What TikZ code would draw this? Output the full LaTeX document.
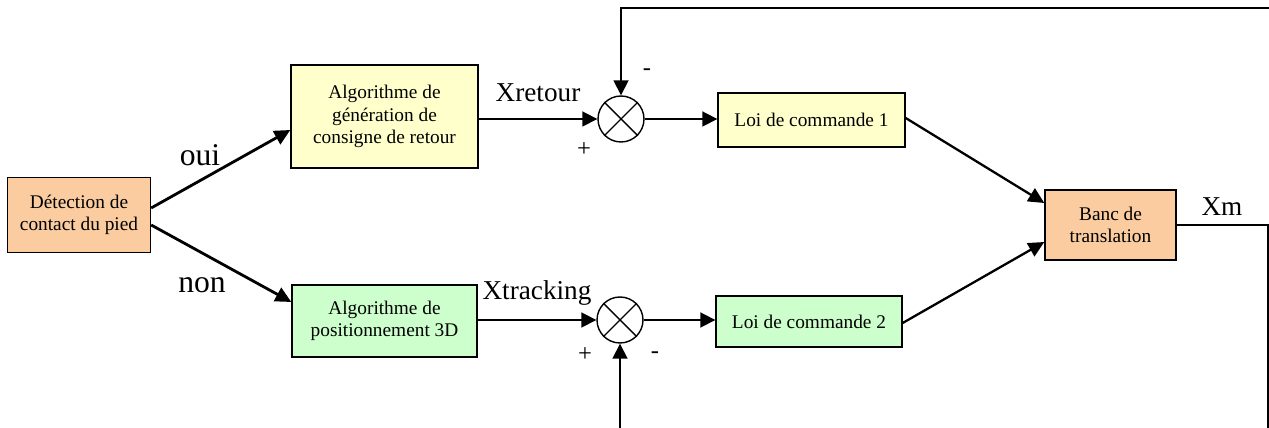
\documentclass[tikz,border=0pt]{standalone}
\usepackage{fontspec}
\setmainfont{Liberation Serif}
\usetikzlibrary{positioning,calc,arrows.meta}

\definecolor{boxorange}{HTML}{FACCA0}
\definecolor{boxyellow}{HTML}{FFFFCC}
\definecolor{boxgreen}{HTML}{CCFFCC}

\begin{document}
\begin{tikzpicture}[x=0.02cm,y=-0.02cm,
    bloc/.style={draw=black,line width=0.8pt,align=center,inner sep=1pt,
      font=\fontsize{11}{12.8}\selectfont},
    sumnode/.style={draw=black,circle,line width=0.8pt,minimum size=0.92cm,inner sep=0pt},
    lbl/.style={font=\fontsize{15.5}{18}\selectfont},
    choix/.style={font=\fontsize{18}{20}\selectfont},
    sgn/.style={font=\fontsize{14}{16}\selectfont},
    fleche/.style={line width=1pt,-{Triangle[length=8.5pt,width=8.5pt]}},
    grosse/.style={line width=1.6pt,-{Triangle[length=9pt,width=8.5pt]}},
    fil/.style={line width=0.9pt}]
  \useasboundingbox (0,0) rectangle (1269,428);

  % blocs
  \node[bloc,fill=boxorange,minimum width=2.86cm,minimum height=1.5cm] (det) at (79,215)
    {D\'etection de\\contact du pied};
  \node[bloc,fill=boxyellow,minimum width=3.74cm,minimum height=2.06cm] (ret) at (384.5,116.5)
    {Algorithme de\\g\'en\'eration de\\consigne de retour};
  \node[bloc,fill=boxgreen,minimum width=3.7cm,minimum height=1.44cm] (pos) at (384.5,321)
    {Algorithme de\\positionnement 3D};
  \node[sumnode] (sum1) at (621,119) {};
  \node[sumnode] (sum2) at (620,320) {};
  \node[bloc,fill=boxyellow,minimum width=3.74cm,minimum height=1.08cm] (loi1) at (811.5,120)
    {Loi de commande 1};
  \node[bloc,fill=boxgreen,minimum width=3.72cm,minimum height=1.02cm] (loi2) at (809,321.5)
    {Loi de commande 2};
  \node[bloc,fill=boxorange,minimum width=2.62cm,minimum height=1.4cm] (banc) at (1110.5,225)
    {Banc de\\translation};

  % croix des comparateurs
  \foreach \s in {sum1,sum2} {
    \draw[line width=0.8pt] (\s.north east) -- (\s.south west);
    \draw[line width=0.8pt] (\s.north west) -- (\s.south east);
  }

  % labels
  \node[choix] (oui) at (200,155) {oui};
  \node[choix] (non) at (202,285) {non};
  \node[lbl] (xret) at (538,93) {Xretour};
  \node[lbl] (xtrack) at (537,293) {Xtracking};
  \node[lbl] (xm) at (1222,207) {Xm};
  \node[sgn] (m1) at (647,72) {-};
  \node[sgn] (p1) at (584,150) {+};
  \node[sgn] (p2) at (585,355) {+};
  \node[sgn] (m2) at (655,355) {-};

  % liaisons
  \draw[grosse] ($(det.east)+(0,-7)$) -- ($(ret.west)+(0,13.5)$);
  \draw[grosse] ($(det.east)+(0,10)$) -- ($(pos.west)+(0,-19)$);
  \draw[fleche] (ret.east |- sum1) -- (sum1.west);
  \draw[fleche] (pos.east |- sum2) -- (sum2.west);
  \draw[fleche] (sum1.east) -- (sum1.east -| loi1.west);
  \draw[fleche] (sum2.east) -- (sum2.east -| loi2.west);
  \draw[grosse,line width=1.3pt] ($(loi1.east)+(0,-2)$) -- ($(banc.west)+(0,-22)$);
  \draw[grosse,line width=1.3pt] ($(loi2.east)+(0,1.5)$) -- ($(banc.west)+(0,17)$);

  % retours
  \coordinate (hautd) at (1269,8);
  \coordinate (basg) at (620,428);
  \coordinate (coin) at (1268,225);
  \coordinate (basd) at (1268,428);
  \draw[fleche] (hautd) -- (hautd -| sum1) -- (sum1.north);
  \draw[fil] (banc.east) -- (coin) -- (basd);
  \draw[fleche] (basg) -- (sum2.south);
\end{tikzpicture}
\end{document}
